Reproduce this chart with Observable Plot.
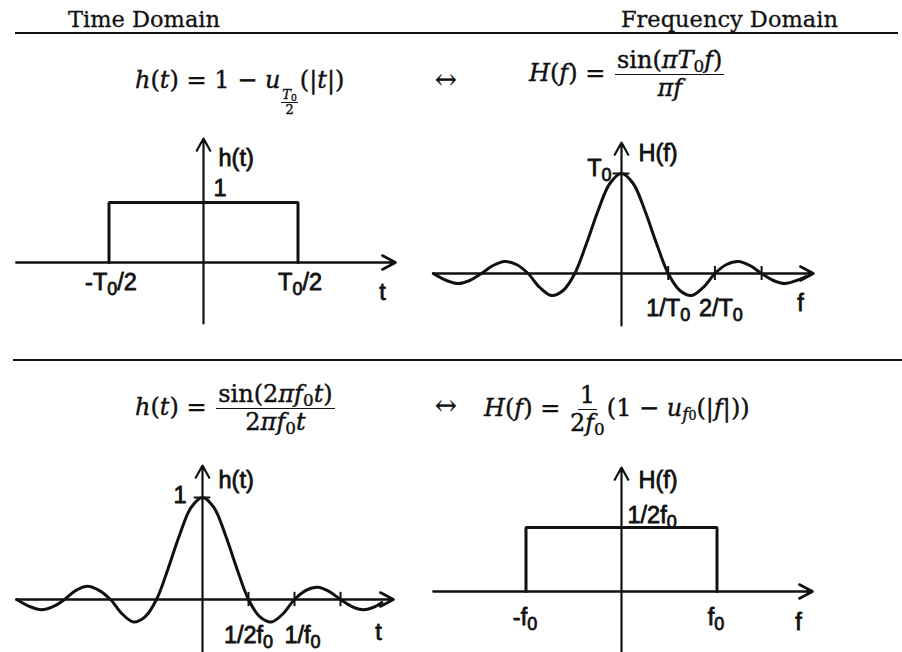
<!DOCTYPE html>
<html>
<head>
<meta charset="utf-8">
<script src="https://cdn.jsdelivr.net/npm/d3@7"></script>
<script src="https://cdn.jsdelivr.net/npm/@observablehq/plot@0.6"></script>
<style>
  html, body { margin: 0; padding: 0; background: #fff; }
  #fig { position: relative; width: 902px; height: 652px; overflow: hidden; background: #fff; color: #111; }
  .hdr { position: absolute; font-family: "DejaVu Serif", serif; font-size: 22.5px; line-height: 1; white-space: nowrap; -webkit-text-stroke: 0.3px #111; }
  .sep { position: absolute; height: 0; border-top: 2px solid #111; }
  .eq { position: absolute; font-family: "DejaVu Serif", serif; font-size: 24px; line-height: 1; white-space: nowrap; -webkit-text-stroke: 0.4px #111; }
  .eq i { font-style: italic; }
  .frac { display: inline-flex; flex-direction: column; align-items: center; vertical-align: middle; margin: 0 2px; }
  .frac > span:first-child { border-bottom: 1.6px solid #111; padding: 0 2px 2px; }
  .frac > span:last-child { padding-top: 1px; }
  .sfrac { display: inline-flex; flex-direction: column; align-items: center; font-size: 13px; vertical-align: -11px; margin: 0 2px 0 1px; line-height: 1; }
  .sfrac > span:first-child { border-bottom: 1.2px solid #111; padding: 0 1px 1px; }
  sub { font-size: 70%; vertical-align: -0.25em; line-height: 0; font-style: normal; }
  .arr { font-size: 26px; }
  .panel { position: absolute; }
</style>
</head>
<body>
<div id="fig">
  <div class="hdr" style="left:68px;top:8px">Time Domain</div>
  <div class="hdr" style="left:621px;top:8px">Frequency Domain</div>
  <div class="sep" style="left:15px;width:883px;top:32px"></div>
  <div class="sep" style="left:13px;width:889px;top:359px"></div>

  <div class="eq" style="left:135px;top:68px"><i>h</i>(<i>t</i>) = 1 − <i>u</i><span class="sfrac"><span><i>T</i><sub>0</sub></span><span>2</span></span>(|<i>t</i>|)</div>
  <div class="eq arr" style="left:435px;top:66px">↔</div>
  <div class="eq" style="left:529px;top:48px"><i>H</i>(<i>f</i>) = <span class="frac"><span>sin(<i>πT</i><sub>0</sub><i>f</i>)</span><span><i>πf</i></span></span></div>

  <div class="eq" style="left:135px;top:382px"><i>h</i>(<i>t</i>) = <span class="frac"><span>sin(2<i>πf</i><sub>0</sub><i>t</i>)</span><span>2<i>πf</i><sub>0</sub><i>t</i></span></span></div>
  <div class="eq arr" style="left:435px;top:392px">↔</div>
  <div class="eq" style="left:484px;top:383px"><i>H</i>(<i>f</i>) = <span class="frac"><span>1</span><span>2<i>f</i><sub>0</sub></span></span>(1 − <i>u</i><sub><i>f</i><span style="font-size:75%">0</span></sub>(|<i>f</i>|))</div>
</div>
<script>
// ---- Rectangular pulse h(t) = 1 - u_{T0/2}(|t|), t in units of T0 ----
const pulseT = [-0.5, -0.5, 0.5, 0.5];
const pulseH = [0, 1, 1, 0];
const pulseEdges = [-0.5, 0.5];
const pulseEdgeLabels = ["-T₀/2", "T₀/2"];
const pulseAxisT = [-0.99, 1.016];
const pulseAxisH = [-1.017, 2.067];

// ---- Its spectrum H(f) = sin(pi T0 f)/(pi f), f in units of 1/T0, H in units of T0 ----
const specF = [-4.03, -3.75, -3.5, -3.25, -3, -2.75, -2.5, -2.25, -2, -1.75, -1.5, -1.25, -1, -0.75, -0.5, -0.25,
               0, 0.25, 0.5, 0.75, 1, 1.25, 1.5, 1.75, 2, 2.25, 2.5, 2.75, 3, 3.25, 3.5, 3.75, 3.95];
const specH = [0, -0.07, -0.10, -0.07, 0, 0.08, 0.12, 0.09, 0, -0.14, -0.22, -0.17, 0, 0.30, 0.63, 0.90,
               1, 0.90, 0.63, 0.30, 0, -0.17, -0.22, -0.14, 0, 0.09, 0.12, 0.08, 0, -0.07, -0.10, -0.07, -0.03];
const specTicks = [1, 2, 3];
const specTickLabels = ["1/T₀", "2/T₀"];
const specAxisF = [-4.026, 4.111];
const specAxisH = [-0.52, 1.31];

// ---- Sinc pulse h(t) = sin(2 pi f0 t)/(2 pi f0 t), t in units of 1/(2 f0) ----
const sincT = [-4.04, -3.75, -3.5, -3.25, -3, -2.75, -2.5, -2.25, -2, -1.75, -1.5, -1.25, -1, -0.75, -0.5, -0.25,
               0, 0.25, 0.5, 0.75, 1, 1.25, 1.5, 1.75, 2, 2.25, 2.5, 2.75, 3, 3.25, 3.5, 3.75, 3.9];
const sincH = [0, -0.07, -0.10, -0.07, 0, 0.09, 0.13, 0.09, 0, -0.14, -0.22, -0.17, 0, 0.30, 0.63, 0.90,
               1, 0.90, 0.63, 0.30, 0, -0.17, -0.22, -0.14, 0, 0.09, 0.12, 0.08, 0, -0.07, -0.10, -0.07, -0.03];
const sincTicks = [1, 2, 3];
const sincTickLabels = ["1/2f₀", "1/f₀"];
const sincAxisT = [-4.043, 4.152];
const sincAxisH = [-0.52, 1.314];

// ---- Ideal low-pass H(f) = (1/2f0)(1 - u_f0(|f|)), f in units of f0 ----
const lowpassF = [-1, -1, 1, 1];
const lowpassH = [0, 1, 1, 0];
const lowpassEdges = [-1, 1];
const lowpassEdgeLabels = ["-f₀", "f₀"];
const lowpassAxisF = [-1.969, 2.0];
const lowpassAxisH = [-0.953, 1.9375];

const ink = "#111";
const sans = "'Liberation Sans', Arial, sans-serif";
const fig = document.getElementById("fig");

const pts = (xs, ys) => xs.map((x, i) => ({x, y: ys[i]}));
const text = (data, o) => Plot.text(data, {fontFamily: sans, fontSize: 23.5, fill: ink, stroke: ink, strokeWidth: 0.8, ...o});
const axes = (xs, ys) => [
  Plot.arrow([0], {x1: xs[0], x2: xs[1], y1: 0, y2: 0, stroke: ink, strokeWidth: 2.6, headLength: 8.6, headAngle: 56}),
  Plot.arrow([0], {x1: 0, x2: 0, y1: ys[0], y2: ys[1], stroke: ink, strokeWidth: 2.2, headLength: 9.5, headAngle: 58})
];

// Turn the ₀ glyphs into a lowered, smaller "0" like a typeset subscript
function lowerZeros(svg) {
  const ns = "http://www.w3.org/2000/svg";
  for (const t of svg.querySelectorAll("text")) {
    const s = t.textContent;
    if (!s.includes("₀")) continue;
    t.textContent = "";
    const parts = s.split("₀");
    parts.forEach((p, i) => {
      if (p) {
        const a = document.createElementNS(ns, "tspan");
        a.textContent = p;
        if (i > 0) a.setAttribute("dy", "-5");
        t.appendChild(a);
      }
      if (i < parts.length - 1) {
        const b = document.createElementNS(ns, "tspan");
        b.textContent = "0";
        b.setAttribute("font-size", "18");
        b.setAttribute("dy", "5");
        t.appendChild(b);
      }
    });
  }
}

function panel({left, top, width, height, x, y, marks}) {
  const svg = Plot.plot({
    width, height, margin: 0,
    x: {domain: x, axis: null},
    y: {domain: y, axis: null},
    style: {background: "transparent", overflow: "visible"},
    marks
  });
  lowerZeros(svg);
  const div = document.createElement("div");
  div.className = "panel";
  div.style.left = left + "px";
  div.style.top = top + "px";
  div.appendChild(svg);
  fig.appendChild(div);
}

// Top left: rectangular pulse
panel({
  left: 0, top: 125, width: 420, height: 205,
  x: [-1.0741, 1.1481], y: [-1.1333, 2.2833],
  marks: [
    ...axes(pulseAxisT, pulseAxisH),
    Plot.line(pts(pulseT, pulseH), {x: "x", y: "y", stroke: ink, strokeWidth: 3, strokeLinejoin: "miter"}),
    text(pulseEdges, {x: (d) => d, y: 0, text: (d, i) => pulseEdgeLabels[i], dx: 2, dy: 20}),
    text([pulseH[1]], {x: 0, y: (d) => d, text: ["1"], textAnchor: "start", dx: 10, dy: -14}),
    text([pulseAxisH[1]], {x: 0, y: (d) => d, text: ["h(t)"], textAnchor: "start", dx: 15, dy: 20}),
    text([pulseAxisT[1]], {x: (d) => d, y: 0, text: ["t"], dx: -13, dy: 30})
  ]
});

// Top right: its sinc spectrum
panel({
  left: 420, top: 125, width: 482, height: 205,
  x: [-4.3041, 6.0171], y: [-0.57, 1.48],
  marks: [
    ...axes(specAxisF, specAxisH),
    Plot.ruleX(specTicks, {x: (d) => d, y1: -0.07, y2: 0.07, stroke: ink, strokeWidth: 2}),
    Plot.ruleY([1], {y: (d) => d, x1: -0.18, x2: 0.18, stroke: ink, strokeWidth: 2}),
    Plot.line(pts(specF, specH), {x: "x", y: "y", curve: "catmull-rom", stroke: ink, strokeWidth: 3}),
    text([specTicks[0]], {x: (d) => d, y: 0, text: [specTickLabels[0]], dy: 35}),
    text([specTicks[1]], {x: (d) => d, y: 0, text: [specTickLabels[1]], dx: 6, dy: 35}),
    text([1], {x: 0, y: (d) => d, text: ["T₀"], textAnchor: "end", dx: -10, dy: -5}),
    text([specAxisH[1]], {x: 0, y: (d) => d, text: ["H(f)"], textAnchor: "start", dx: 17, dy: 11}),
    text([specAxisF[1]], {x: (d) => d, y: 0, text: ["f"], dx: -13, dy: 30})
  ]
});

// Bottom left: sinc pulse
panel({
  left: 0, top: 455, width: 420, height: 197,
  x: [-4.3913, 4.7391], y: [-0.5196, 1.4118],
  marks: [
    ...axes(sincAxisT, sincAxisH),
    Plot.ruleX(sincTicks, {x: (d) => d, y1: -0.07, y2: 0.07, stroke: ink, strokeWidth: 2}),
    Plot.ruleY([1], {y: (d) => d, x1: -0.18, x2: 0.18, stroke: ink, strokeWidth: 2}),
    Plot.line(pts(sincT, sincH), {x: "x", y: "y", curve: "catmull-rom", stroke: ink, strokeWidth: 3}),
    text([sincTicks[0]], {x: (d) => d, y: 0, text: [sincTickLabels[0]], dy: 36}),
    text([sincTicks[1]], {x: (d) => d, y: 0, text: [sincTickLabels[1]], dx: 8, dy: 36}),
    text([1], {x: 0, y: (d) => d, text: ["1"], textAnchor: "end", dx: -16, dy: -2}),
    text([sincAxisH[1]], {x: 0, y: (d) => d, text: ["h(t)"], textAnchor: "start", dx: 16, dy: 15}),
    text([sincAxisT[1]], {x: (d) => d, y: 0, text: ["t"], dx: -15, dy: 33})
  ]
});

// Bottom right: ideal low-pass spectrum
panel({
  left: 420, top: 455, width: 482, height: 197,
  x: [-2.1047, 2.9424], y: [-0.9531, 2.125],
  marks: [
    ...axes(lowpassAxisF, lowpassAxisH),
    Plot.line(pts(lowpassF, lowpassH), {x: "x", y: "y", stroke: ink, strokeWidth: 3, strokeLinejoin: "miter"}),
    text(lowpassEdges, {x: (d) => d, y: 0, text: (d, i) => lowpassEdgeLabels[i], dx: -1, dy: 26}),
    text([lowpassH[1]], {x: 0, y: (d) => d, text: ["1/2f₀"], textAnchor: "start", dx: 6, dy: -12}),
    text([lowpassAxisH[1]], {x: 0, y: (d) => d, text: ["H(f)"], textAnchor: "start", dx: 17, dy: 13}),
    text([lowpassAxisF[1]], {x: (d) => d, y: 0, text: ["f"], dx: -14, dy: 31})
  ]
});
</script>
</body>
</html>
